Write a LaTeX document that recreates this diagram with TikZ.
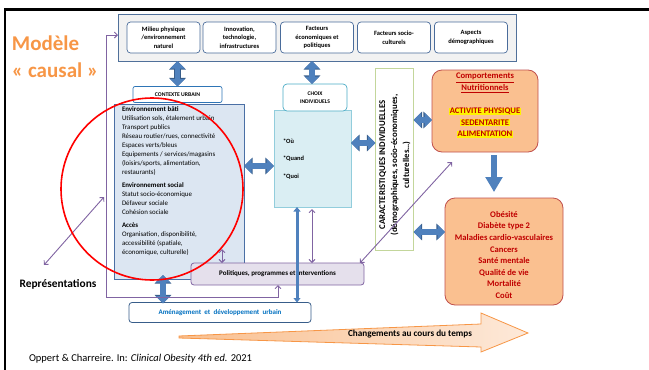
\documentclass[tikz,border=0pt]{standalone}
\usepackage{fontspec}
\setmainfont{Carlito}
\usetikzlibrary{arrows.meta,calc}
\definecolor{topfill}{HTML}{F2F2F2}
\definecolor{topborder}{HTML}{50709A}
\definecolor{boxblue}{HTML}{4A6C9B}
\definecolor{ctxborder}{HTML}{2E75B6}
\definecolor{envfill}{HTML}{DCE6F2}
\definecolor{envborder}{HTML}{4A6FA5}
\definecolor{choixfill}{HTML}{DAEEF3}
\definecolor{choixborder}{HTML}{92CDDC}
\definecolor{choixhead}{HTML}{4BACC6}
\definecolor{caracborder}{HTML}{C3D69B}
\definecolor{compfill}{HTML}{FAC090}
\definecolor{compborder}{HTML}{C0504D}
\definecolor{darkred}{HTML}{C00000}
\definecolor{polfill}{HTML}{E5E0EC}
\definecolor{purp}{HTML}{8064A2}
\definecolor{amentext}{HTML}{0070C0}
\definecolor{amenborder}{HTML}{385D8A}
\definecolor{arrowblue}{HTML}{4F81BD}
\definecolor{orng}{HTML}{F79646}
\definecolor{orlight}{HTML}{FDE9D9}
\definecolor{ormid}{HTML}{F9BF8F}
\newcommand\myfs[2]{\fontsize{#1}{#2}\selectfont}
\begin{document}
\begin{tikzpicture}[x=1pt,y=-1pt,
  every node/.style={inner sep=0pt, outer sep=0pt},
  bigtop/.style={draw=topborder, line width=0.8pt, fill=topfill, minimum width=398, minimum height=47},
  topbox/.style={draw=boxblue, line width=0.7pt, fill=white, rounded corners=3.5pt, minimum width=73, minimum height=31, align=center, font=\bfseries\myfs{6.5}{8.5}},
  ctxbox/.style={draw=ctxborder, line width=0.7pt, fill=white, rounded corners=2pt, minimum width=89, minimum height=16, font=\bfseries\myfs{5.7}{7}},
  envbox/.style={draw=envborder, line width=0.8pt, fill=envfill, minimum width=130, minimum height=175},
  envtext/.style={align=left, font=\myfs{6.9}{9}},
  choixbody/.style={draw=choixborder, line width=0.8pt, fill=choixfill, minimum width=77, minimum height=97},
  choixhd/.style={draw=choixhead, line width=0.7pt, fill=white, rounded corners=4pt, minimum width=64, minimum height=27, align=center, font=\bfseries\myfs{5.6}{8.5}},
  qtext/.style={anchor=west, font=\bfseries\myfs{6.4}{8}},
  caracbox/.style={draw=caracborder, line width=0.8pt, fill=white, minimum width=38, minimum height=182},
  redbox/.style={draw=compborder, line width=0.8pt, fill=compfill, rounded corners=10pt},
  redtext/.style={align=center, text=darkred, font=\bfseries\myfs{8.6}{11.6}},
  polbox/.style={draw=purp, line width=0.8pt, fill=polfill, rounded corners=3pt, minimum width=173, minimum height=22, font=\bfseries\myfs{7}{9}},
  amenbox/.style={draw=amenborder, line width=0.8pt, fill=white, rounded corners=3pt, minimum width=182, minimum height=20, text=amentext, font=\bfseries\myfs{7}{9}},
  fat/.style={draw=arrowblue, line width=5.5pt, {Triangle[length=7.5pt,width=14.5pt]}-{Triangle[length=7.5pt,width=14.5pt]},
    preaction={draw=amenborder, line width=6.6pt, {Triangle[length=8.6pt,width=16.3pt]}-{Triangle[length=8.6pt,width=16.3pt]}}},
  thinblue/.style={draw=arrowblue, line width=3pt, {Triangle[length=4.5pt,width=7pt]}-{Triangle[length=4.5pt,width=7pt]}},
  parr/.style={draw=purp, line width=0.9pt, {Straight Barb[length=3pt,width=6pt]}-{Straight Barb[length=3pt,width=6pt]}}
]
\useasboundingbox (0,0) rectangle (649,370);
% slide frame
\draw[line width=2.6pt, line join=miter] (5,371) -- (5,9.6) -- (650,9.6);

% title
\node[anchor=west, text=orng, font=\bfseries\myfs{21}{24}] (mod) at (12,43) {Modèle};
\node[anchor=west, text=orng, font=\bfseries\myfs{21}{24}] (caus) at (12,70) {«~causal~»};

% top factors
\node[bigtop] (top) at (317,37.5) {};
\node[topbox] (t1) at (163.5,37.5) {Milieu physique\\/environnement\\naturel};
\node[topbox] (t2) at (239.5,37.5) {Innovation,\\technologie,\\infrastructures};
\node[topbox] (t3) at (317,37.5) {Facteurs\\économiques et\\politiques};
\node[topbox] (t4) at (394,37.5) {Facteurs socio-\\culturels};
\node[topbox] (t5) at (471,37.5) {Aspects\\démographiques};

% urban context
\node[ctxbox] (ctx) at (177.5,94.5) {CONTEXTE URBAIN};
\node[envbox] (env) at (179,191.5) {};
\node[envtext, anchor=north west] (envt) at (122,107) {\textbf{Environnement bâti}\\
Utilisation sols, étalement urbain\\
Transport publics\\
Réseau routier/rues, connectivité\\
Espaces verts/bleus\\
Equipements / services/magasins\\
(loisirs/sports, alimentation,\\
restaurants)\\[4pt]
\textbf{Environnement social}\\
Statut socio-économique\\
Défaveur sociale\\
Cohésion sociale\\[4pt]
\textbf{Accès}\\
Organisation, disponibilité,\\
accessibilité (spatiale,\\
économique, culturelle)};

% individual choices
\node[choixbody] (choix) at (312.5,158.5) {};
\node[choixhd] (choixh) at (315,97.5) {CHOIX\\INDIVIDUELS};
\node[qtext] (ou) at (283,141) {*Où};
\node[qtext] (quand) at (283,159) {*Quand};
\node[qtext] (quoi) at (283,177) {*Quoi};

% individual characteristics
\node[caracbox] (carac) at (394.5,159) {};
\node[rotate=90, align=center, font=\bfseries\myfs{8.8}{12}] (caract) at (395,165) {CARACTERISTIQUES INDIVIDUELLES\\(démographiques, socio-économiques,\\culturelles…)};

% behaviours
\node[redbox, minimum width=106, minimum height=82] (comp) at (485,111) {};
\node[redtext] (compt) at (485,105.5) {\underline{Comportements}\\\underline{Nutritionnels}\\[11.6pt]
{\setlength\fboxsep{0.6pt}\colorbox{yellow}{ACTIVITE PHYSIQUE}}\\
{\setlength\fboxsep{0.6pt}\colorbox{yellow}{SEDENTARITE}}\\
{\setlength\fboxsep{0.6pt}\colorbox{yellow}{ALIMENTATION}}};

% outcomes
\node[redbox, minimum width=118, minimum height=107] (obes) at (504,251.5) {};
\node[redtext] (obest) at (504,255) {Obésité\\Diabète type 2\\Maladies cardio-vasculaires\\Cancers\\Santé mentale\\Qualité de vie\\Mortalité\\Coût};

% policies and planning
\node[polbox] (pol) at (277.5,274) {Politiques, programmes et interventions};
\node[amenbox] (amen) at (220,312.5) {Aménagement~ et~ développement~ urbain};

% representations
\node[font=\bfseries\myfs{11.4}{13}] (rep) at (58,284) {Représentations};
\coordinate (repend) at (44,265);
\coordinate (loopjoin) at (104,197);

% time arrow
\draw[draw=orng, line width=0.8pt, line join=miter, left color=ormid, right color=orlight]
  (179,336) -- (481,324) -- (481,313) -- (528,333) -- (481,352) -- (481,347) -- (179,338) -- cycle;
\node[font=\bfseries\myfs{9.2}{11}] (chg) at (410,334) {Changements au cours du temps};

% citation
\node[anchor=west, font=\myfs{10.5}{12}] (cite) at (29,359) {Oppert \& Charreire. In: \textit{Clinical Obesity 4th ed.} 2021};

% blue arrows
\draw[fat] (ctx.north |- top.south) -- (ctx.north);
\draw[fat] ([xshift=-3pt]choixh.north |- top.south) -- ([xshift=-3pt]choixh.north);
\draw[fat] (env.east |- 0,166) -- (choix.west |- 0,166);
\draw[fat] (choix.east |- 0,143) -- (carac.west |- 0,143);
\draw[fat] (carac.east |- 0,120) -- (comp.west |- 0,120);
\draw[fat] (carac.east |- 0,232) -- (obes.west |- 0,232);
\draw[fat, shorten >=-1pt] ([yshift=4pt]env.south -| 163,0) -- (amen.north -| 163,0);
\draw[draw=arrowblue, line width=6.5pt, -{Triangle[length=15pt,width=16.5pt]}, shorten <=3pt, shorten >=6pt] (comp.south -| 494,0) -- (obes.north -| 494,0);
\draw[thinblue] (choix.south -| 297,0) -- (amen.north -| 297,0);

% purple connectors
\draw[parr, shorten <=2pt] (choix.south -| 312,0) -- (pol.north -| 312,0);
\draw[parr] (222,249) -- (pol.north -| 222,0);
\draw[parr] ([xshift=-4pt]pol.north east) -- ([shift={(20,10)}]comp.south west);
\draw[parr] (pol.south -| 278,0) |- (106,297) |- (top.west |- 0,35);
\draw[parr] (repend) -- (loopjoin);

% red ellipse
\draw[red, line width=1.6pt] (152,189) ellipse [x radius=91, y radius=91];
\end{tikzpicture}
\end{document}
